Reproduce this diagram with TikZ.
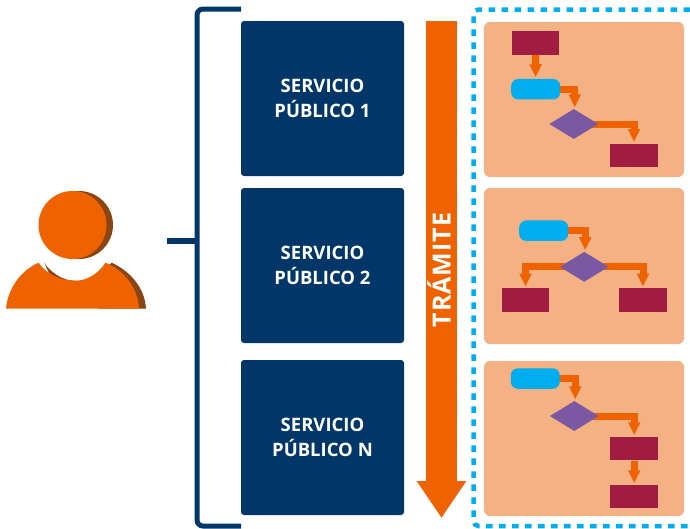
\documentclass[tikz,border=0pt]{standalone}
\usepackage{fontspec}
\setmainfont{Open Sans}
\usepackage{tikz}
\usetikzlibrary{arrows.meta, positioning, calc, shapes.geometric}
\definecolor{navy}{HTML}{003768}
\definecolor{tramite}{HTML}{EE6300}
\definecolor{sombra}{HTML}{8A4513}
\definecolor{panel}{HTML}{F4B183}
\definecolor{cielo}{HTML}{00AEEF}
\definecolor{vino}{HTML}{A01C40}
\definecolor{lila}{HTML}{7A58A2}
\pgfdeclarelayer{front}
\pgfsetlayers{main,front}
\tikzset{
    servicio/.style={fill=navy, text=white, rounded corners=3pt, minimum width=163pt, minimum height=155pt, align=center, inner sep=0pt, font=\fontsize{18.5}{25}\selectfont\bfseries},
    panelbox/.style={fill=panel, rounded corners=6pt, minimum width=200pt, minimum height=155pt, inner sep=0pt},
    proceso/.style={fill=vino, minimum width=47.5pt, minimum height=23.5pt, inner sep=0pt},
    inicio/.style={fill=cielo, rounded corners=7pt, minimum width=49pt, minimum height=20.5pt, inner sep=0pt},
    decision/.style={diamond, fill=lila, aspect=1.63, inner sep=0pt, minimum width=49pt, minimum height=30pt},
    flow/.style={draw=tramite, line width=7pt, -{Triangle[width=11.5pt,length=13pt]}, shorten >=1.5pt},
    brace/.style={draw=navy, line width=5pt}
}
\begin{document}
\begin{tikzpicture}[x=1pt, y=-1pt]
    \useasboundingbox (0,0) rectangle (690,528);
    % persona
    \fill[sombra] (79,225) circle (34);
    \fill[tramite] (72.5,225) circle (34);
    \fill[sombra] (44,262.7) .. controls (52,274) and (64,280.7) .. (75,280.7) -- (100,285) -- (108,266) -- (111.7,262.7) .. controls (130,271) and (145,288) .. (146,308.7) -- (100,308.7) -- (60,295) -- cycle;
    \fill[tramite] (6,308.7) .. controls (8,287) and (22,270) .. (38.5,262.7) .. controls (47,275) and (62,280.7) .. (75,280.7) .. controls (87,280.7) and (98,274) .. (105.5,262.7) .. controls (124,270) and (138,288) .. (139,308.7) -- cycle;
    % corchete
    \coordinate (llave top) at (241,9);
    \coordinate (llave bottom) at (241,526);
    \coordinate (llave mid) at (197,241);
    \coordinate (llave stub) at (167,241);
    \draw[brace, rounded corners=6pt] (llave top) -| (llave mid) |- (llave bottom);
    \draw[brace, line width=6.5pt] (llave stub) -- (llave mid);
    % servicios
    \node[servicio] (svcA) at (322.5,98.5) {SERVICIO\\PÚBLICO 1};
    \node[servicio] (svcB) at (322.5,265.5) {SERVICIO\\PÚBLICO 2};
    \node[servicio] (svcN) at (322.5,437.5) {SERVICIO\\PÚBLICO N};
    % flecha grande
    \coordinate (tramite top) at (441.5,21);
    \coordinate (tramite tip) at (441.5,518);
    \draw[draw=tramite, line width=31pt, -{Triangle[width=47pt,length=37pt]}] (tramite top) -- (tramite tip);
    \node[rotate=90, anchor=base, text=white, font=\fontsize{25}{30}\selectfont\bfseries\addfontfeature{LetterSpace=4}, inner sep=0pt] (tramiteText) at (450.7,270) {TRÁMITE};
    % marco punteado
    \draw[cielo, line width=4.5pt, dash pattern=on 6.5pt off 6.5pt, rounded corners=5pt] (690,9.5) -- (473.5,9.5) -- (473.5,526) -- (690,526);
    % panel 1
    \node[panelbox] (panelA) at (584,99.5) {};
    \node[proceso] (pA1) at (535.5,43) {};
    \begin{pgfonlayer}{front}
        \node[inicio] (tA) at (535.7,89.2) {};
        \node[decision] (dA) at (573.8,124) {};
    \end{pgfonlayer}
    \node[proceso] (pA2) at (634,155.5) {};
    \draw[flow] (pA1) -- (tA);
    \draw[flow] (tA.east) -| ([xshift=1pt]dA.north);
    \draw[flow] (dA.center) -| (pA2.north);
    % panel 2
    \node[panelbox, minimum height=156pt] (panelB) at (584,266) {};
    \begin{pgfonlayer}{front}
        \node[inicio] (tB) at (543.7,230.7) {};
        \node[decision] (dB) at (584.2,266.8) {};
    \end{pgfonlayer}
    \node[proceso] (pB1) at (525.5,300) {};
    \node[proceso] (pB2) at (643,300) {};
    \draw[flow] (tB.east) -| ([xshift=1pt]dB.north);
    \draw[flow] (dB.center) -| (pB1.north);
    \draw[flow] (dB.center) -| (pB2.north);
    % panel 3
    \node[panelbox] (panelN) at (584,438.5) {};
    \begin{pgfonlayer}{front}
        \node[inicio] (tN) at (535.3,378.5) {};
        \node[decision] (dN) at (574.3,416) {};
    \end{pgfonlayer}
    \node[proceso] (pN1) at (634.2,448.7) {};
    \node[proceso] (pN2) at (634.2,496.7) {};
    \draw[flow] (tN.east) -| ([xshift=1pt]dN.north);
    \draw[flow] (dN.center) -| (pN1.north);
    \draw[flow] (pN1) -- (pN2);
\end{tikzpicture}
\end{document}
